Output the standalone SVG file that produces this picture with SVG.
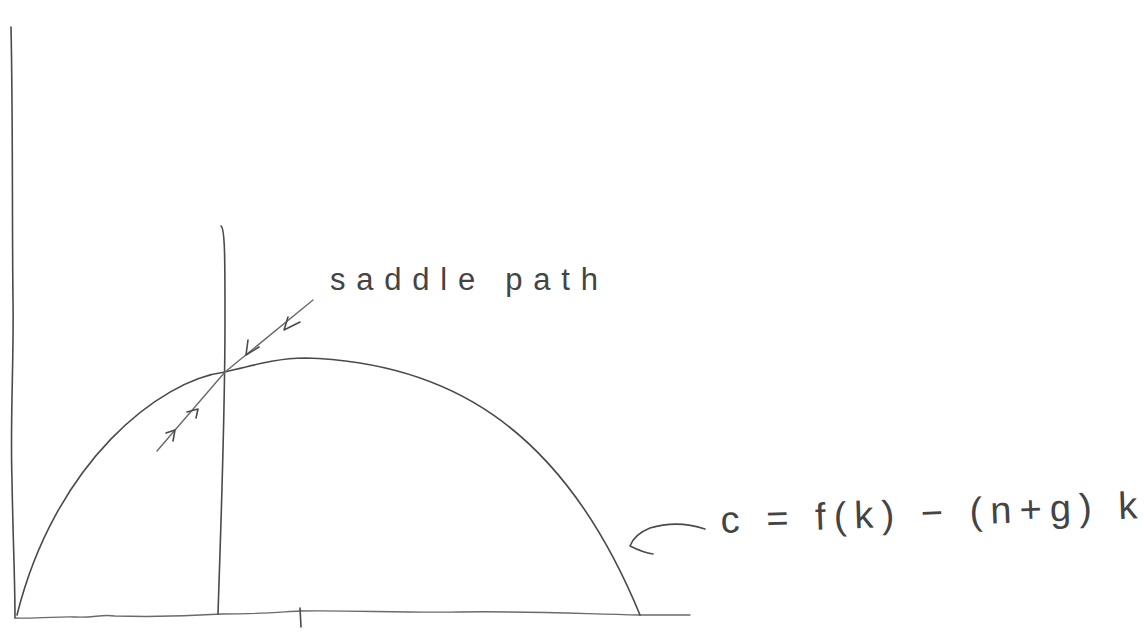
<svg xmlns="http://www.w3.org/2000/svg" width="1144" height="634" viewBox="0 0 1144 634">
<style>
.p{fill:none;stroke:#4a4a4a;stroke-width:1.6;stroke-linecap:round;stroke-linejoin:round}
.l{fill:none;stroke:#6a6a6a;stroke-width:1.4;stroke-linecap:round;stroke-linejoin:round}
.t{font-family:"Liberation Sans",Arial,sans-serif;fill:#444}
</style>
<rect width="1144" height="634" fill="#fff"/>
<g id="axes">
<path class="p" d="M11,27 C13,120 12,220 13,300 C14,360 10,420 12,480 C13,540 15,580 15,618"/>
<path class="l" d="M15,618 C40,619 60,616 75,617 C95,618 100,614 115,616 C150,617 190,616 222,614 C260,614 280,612 300,611 C350,610 400,613 460,612 C520,611 560,613 640,615 L690,615"/>
<path class="p" d="M300,608 L301,627"/>
</g>
<g id="vertical-line">
<path class="p" d="M221,226 C225,228 225,260 225,320 C225,420 221,520 218,614"/>
</g>
<g id="curve">
<path class="p" d="M17,615 C55,462 160,380 225,372 C258,364 280,358 305,358 C440,362 560,420 640,615"/>
</g>
<g id="saddle-path">
<path class="l" d="M157,451 L225,372 L313,300"/>
<path class="p" d="M300,322 L284,330 L288,317"/>
<path class="p" d="M259,347 L246,355 L248,340"/>
<path class="p" d="M187,412 L198,409 L196,418"/>
<path class="p" d="M166,433 L175,430 L173,441"/>
</g>
<g id="label-saddle">
<text class="t" x="330" y="290" font-size="31" textLength="268" lengthAdjust="spacing">saddle path</text>
</g>
<g id="label-equation">
<path class="p" d="M705,529 C690,524 670,522 650,528 C640,532 633,538 630,546 C638,550 646,553 653,554"/>
<text class="t" x="721" y="533" font-size="38" textLength="417" lengthAdjust="spacing" transform="rotate(-2 721 533)">c = f(k) − (n+g) k</text>
</g>
</svg>
